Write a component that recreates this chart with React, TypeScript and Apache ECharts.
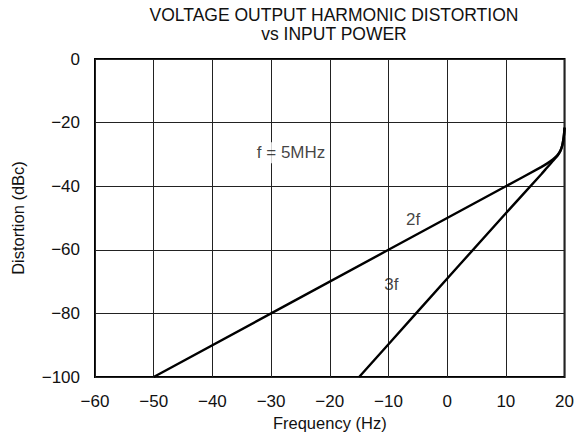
import React, { useEffect, useRef } from "react";
import * as echarts from "echarts";

const xTicks = [-60, -50, -40, -30, -20, -10, 0, 10, 20];
const yTicks = [0, -20, -40, -60, -80, -100];

const series2f: [number, number][] = [
  [-50, -100], [-10, -60], [10, -40], [16, -34], [17, -32.9], [18, -31.6],
  [18.8, -30.2], [19.3, -28.8], [19.6, -27.2], [19.8, -25.3], [19.92, -23.5], [20, -21.5],
];
const series3f: [number, number][] = [
  [-15, -100], [-5.3, -80], [10, -48.5], [16, -36.3], [17, -34.2], [18, -32.1],
  [18.8, -30.4], [19.3, -28.9], [19.6, -27.3], [19.8, -25.4], [19.92, -23.6], [20, -21.7],
];

const annotations: { text: string; x: number; y: number; bg: boolean }[] = [
  { text: "f = 5MHz", x: -26.6, y: -29.5, bg: true },
  { text: "2f", x: -5.8, y: -50.5, bg: false },
  { text: "3f", x: -9.5, y: -71, bg: false },
];

const fmt = (v: number) => (v < 0 ? "\u2212" + Math.abs(v) : String(v));
const FONT = "Liberation Sans, Arial, sans-serif";

export default function App() {
  const ref = useRef<HTMLDivElement>(null);
  useEffect(() => {
    if (!ref.current) return;
    const chart = echarts.init(ref.current, undefined, { renderer: "svg" });
    chart.setOption({
      animation: false,
      backgroundColor: "#fff",
      textStyle: { fontFamily: FONT },
      title: {
        text: "VOLTAGE OUTPUT HARMONIC DISTORTION\nvs INPUT POWER",
        left: 329,
        top: 0,
        textAlign: "center",
        textStyle: { fontSize: 17.5, fontWeight: "normal", color: "#111", lineHeight: 19, fontFamily: FONT },
      },
      grid: {
        left: 95, right: 11, top: 59, bottom: 70,
        show: true, borderColor: "#000", borderWidth: 2,
      },
      xAxis: {
        type: "value",
        min: xTicks[0], max: xTicks[xTicks.length - 1], interval: 10,
        name: "Frequency (Hz)",
        nameLocation: "middle",
        nameGap: 37,
        nameTextStyle: { fontSize: 16.5, color: "#111", fontFamily: FONT },
        axisLine: { show: false },
        axisTick: { show: false },
        axisLabel: { fontSize: 17, color: "#111", margin: 16, formatter: (v: number) => fmt(v), fontFamily: FONT },
        splitLine: { show: true, lineStyle: { color: "#222", width: 1 } },
      },
      yAxis: {
        type: "value",
        min: yTicks[yTicks.length - 1], max: yTicks[0], interval: 20,
        name: "Distortion (dBc)",
        nameLocation: "middle",
        nameGap: 69,
        nameTextStyle: { fontSize: 16.5, color: "#111", fontFamily: FONT },
        axisLine: { show: false },
        axisTick: { show: false },
        axisLabel: { fontSize: 17, color: "#111", margin: 15, formatter: (v: number) => fmt(v), fontFamily: FONT },
        splitLine: { show: true, lineStyle: { color: "#222", width: 1 } },
      },
      series: [
        {
          type: "line", data: series2f, showSymbol: false, smooth: 0.3,
          lineStyle: { color: "#000", width: 2.4 }, z: 3,
        },
        {
          type: "line", data: series3f, showSymbol: false, smooth: 0.3,
          lineStyle: { color: "#000", width: 2.4 }, z: 3,
        },
        {
          type: "scatter", symbolSize: 0, z: 5,
          data: annotations.map((a) => ({
            value: [a.x, a.y],
            label: {
              show: true, position: "inside", formatter: a.text,
              fontSize: 17, color: "#111", fontFamily: FONT,
              backgroundColor: a.bg ? "#fff" : "transparent",
              padding: a.bg ? [2, 3] : 0,
            },
          })),
        },
      ],
    });
    return () => chart.dispose();
  }, []);
  return <div ref={ref} style={{ width: 577, height: 447, position: "absolute", left: 0, top: 0 }} />;
}
